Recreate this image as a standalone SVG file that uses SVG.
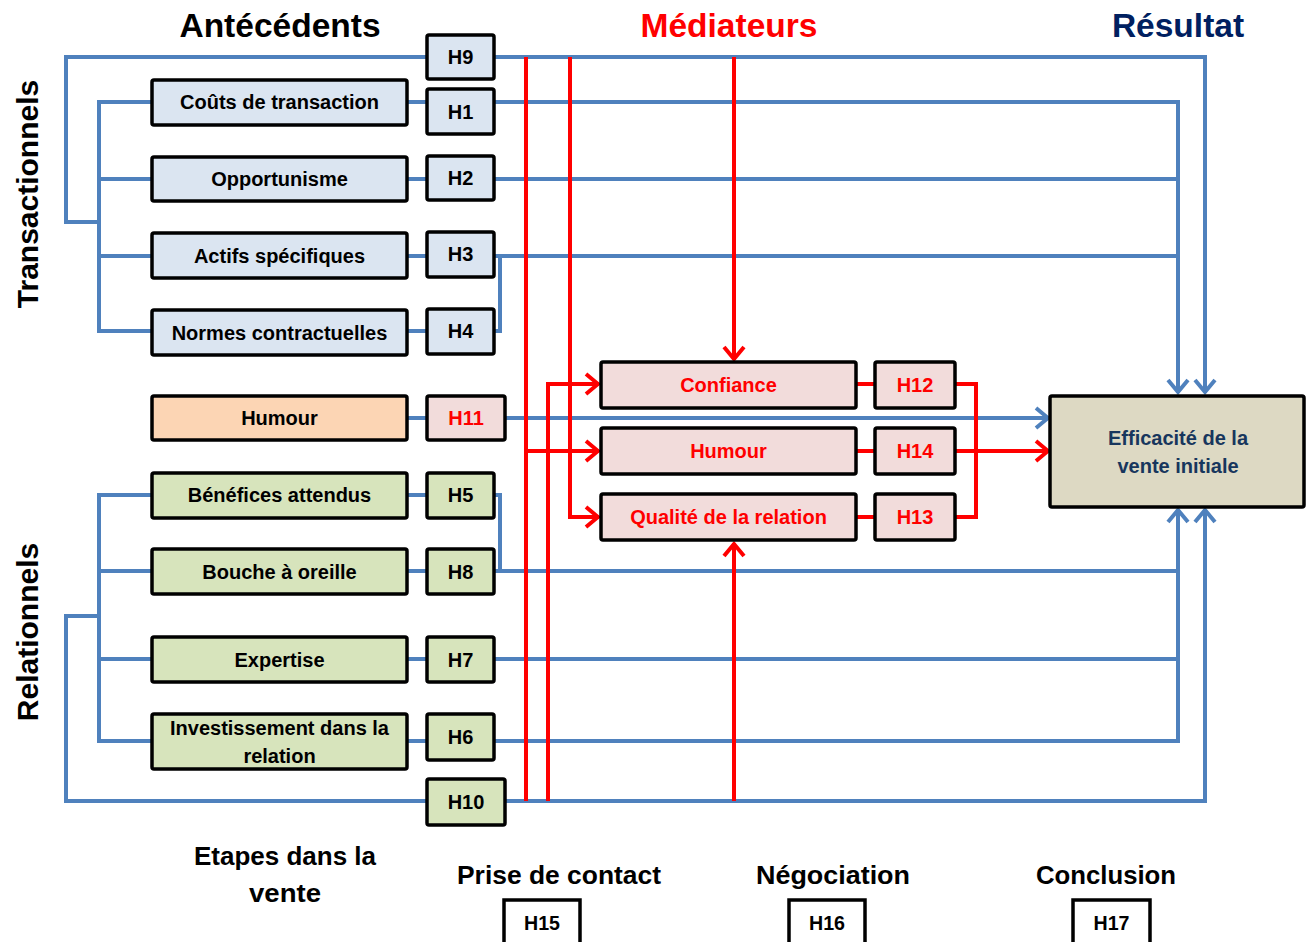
<svg xmlns="http://www.w3.org/2000/svg" width="1311" height="942" viewBox="0 0 1311 942">
<defs>
<style>
text{font-family:"Liberation Sans",Arial,sans-serif;font-weight:bold;}
.t{font-size:20px;text-anchor:middle;fill:#000;}
.r{fill:#ff0000;}
.title{font-size:33.5px;text-anchor:middle;}
.vt{font-size:30px;text-anchor:middle;}
.cond{font-size:26px;text-anchor:middle;fill:#000;}
.box{stroke:#000;stroke-width:3.5;}
.tr{fill:#dbe5f1;}
.rel{fill:#d7e4bc;}
.hum{fill:#fcd5b4;}
.med{fill:#f2dcdb;}
.res{fill:#ddd9c3;}
.bl{fill:none;stroke:#4f81bd;stroke-width:4;}
.rd{fill:none;stroke:#ff0000;stroke-width:4;}
</style>
<marker id="ab" viewBox="0 0 20 24" refX="18" refY="12" markerWidth="20" markerHeight="24" markerUnits="userSpaceOnUse" orient="auto">
<path d="M5,2 L17,12 L5,22" fill="none" stroke="#4f81bd" stroke-width="4"/>
</marker>
<marker id="ar" viewBox="0 0 20 24" refX="18" refY="12" markerWidth="20" markerHeight="24" markerUnits="userSpaceOnUse" orient="auto">
<path d="M5,2 L17,12 L5,22" fill="none" stroke="#ff0000" stroke-width="4"/>
</marker>
</defs>
<rect width="1311" height="942" fill="#fff"/>

<g id="titles">
<text class="title" x="280" y="37" fill="#000">Antécédents</text>
<text class="title" x="729" y="37" fill="#ff0000">Médiateurs</text>
<text class="title" x="1178" y="37" fill="#002060">Résultat</text>
<text class="vt" transform="translate(38,194) rotate(-90)" fill="#000">Transactionnels</text>
<text class="vt" transform="translate(38,632) rotate(-90)" fill="#000">Relationnels</text>
</g>

<g id="connectors">
<path class="bl" d="M427,57 H66 V222 H99"/>
<path class="bl" d="M152,102 H99 V331 H152 M99,179 H152 M99,256 H152"/>
<path class="bl" d="M407,102 H427 M407,179 H427 M407,256 H427 M407,331 H427"/>
<path class="bl" d="M494,57 H1205 V393" marker-end="url(#ab)"/>
<path class="bl" d="M494,102 H1178 V393" marker-end="url(#ab)"/>
<path class="bl" d="M494,179 H1178 M494,256 H1178 M494,331 H500 V256"/>
<path class="bl" d="M407,418 H427"/>
<path class="bl" d="M505,418 H1049" marker-end="url(#ab)"/>
<path class="bl" d="M152,495 H99 V741 H152 M99,571 H152 M99,659 H152 M99,616 H66 V801 H427"/>
<path class="bl" d="M407,495 H427 M407,571 H427 M407,659 H427 M407,741 H427"/>
<path class="bl" d="M494,495 H500 V571 M494,571 H1178 M494,659 H1178"/>
<path class="bl" d="M494,741 H1178 V509" marker-end="url(#ab)"/>
<path class="bl" d="M505,801 H1205 V509" marker-end="url(#ab)"/>
<path class="rd" d="M526,57 V801"/>
<path class="rd" d="M526,451 H599" marker-end="url(#ar)"/>
<path class="rd" d="M548,801 V384 H599" marker-end="url(#ar)"/>
<path class="rd" d="M570,57 V517 H599" marker-end="url(#ar)"/>
<path class="rd" d="M734,57 V360" marker-end="url(#ar)"/>
<path class="rd" d="M734,801 V543" marker-end="url(#ar)"/>
<path class="rd" d="M856,384 H875 M856,451 H875 M856,517 H875"/>
<path class="rd" d="M955,384 H976 V517 H955"/>
<path class="rd" d="M955,451 H1049" marker-end="url(#ar)"/>
</g>

<g id="n-couts"><rect class="box tr" x="152" y="80" width="255" height="45" rx="2"/><text class="t" x="279.5" y="109">Coûts de transaction</text></g>
<g id="n-opport"><rect class="box tr" x="152" y="157" width="255" height="44" rx="2"/><text class="t" x="279.5" y="186">Opportunisme</text></g>
<g id="n-actifs"><rect class="box tr" x="152" y="233" width="255" height="45" rx="2"/><text class="t" x="279.5" y="263">Actifs spécifiques</text></g>
<g id="n-normes"><rect class="box tr" x="152" y="310" width="255" height="45" rx="2"/><text class="t" x="279.5" y="340">Normes contractuelles</text></g>
<g id="n-humour"><rect class="box hum" x="152" y="396" width="255" height="44" rx="2"/><text class="t" x="279.5" y="425">Humour</text></g>
<g id="n-benef"><rect class="box rel" x="152" y="473" width="255" height="45" rx="2"/><text class="t" x="279.5" y="502">Bénéfices attendus</text></g>
<g id="n-bouche"><rect class="box rel" x="152" y="549" width="255" height="45" rx="2"/><text class="t" x="279.5" y="579">Bouche à oreille</text></g>
<g id="n-expertise"><rect class="box rel" x="152" y="637" width="255" height="45" rx="2"/><text class="t" x="279.5" y="667">Expertise</text></g>
<g id="n-invest"><rect class="box rel" x="152" y="714" width="255" height="55" rx="2"/><text class="t" x="279.5" y="735">Investissement dans la</text><text class="t" x="279.5" y="763">relation</text></g>

<g id="h9"><rect class="box tr" x="427" y="35" width="67" height="44" rx="2"/><text class="t" x="460.5" y="64">H9</text></g>
<g id="h1"><rect class="box tr" x="427" y="89" width="67" height="45" rx="2"/><text class="t" x="460.5" y="119">H1</text></g>
<g id="h2"><rect class="box tr" x="427" y="156" width="67" height="44" rx="2"/><text class="t" x="460.5" y="185">H2</text></g>
<g id="h3"><rect class="box tr" x="427" y="232" width="67" height="45" rx="2"/><text class="t" x="460.5" y="261">H3</text></g>
<g id="h4"><rect class="box tr" x="427" y="309" width="67" height="45" rx="2"/><text class="t" x="460.5" y="338">H4</text></g>
<g id="h11"><rect class="box med" x="427" y="396" width="78" height="44" rx="2"/><text class="t r" x="466" y="425">H11</text></g>
<g id="h5"><rect class="box rel" x="427" y="473" width="67" height="45" rx="2"/><text class="t" x="460.5" y="502">H5</text></g>
<g id="h8"><rect class="box rel" x="427" y="549" width="67" height="45" rx="2"/><text class="t" x="460.5" y="579">H8</text></g>
<g id="h7"><rect class="box rel" x="427" y="637" width="67" height="45" rx="2"/><text class="t" x="460.5" y="667">H7</text></g>
<g id="h6"><rect class="box rel" x="427" y="714" width="67" height="46" rx="2"/><text class="t" x="460.5" y="744">H6</text></g>
<g id="h10"><rect class="box rel" x="427" y="779" width="78" height="46" rx="2"/><text class="t" x="466" y="809">H10</text></g>

<g id="m-confiance"><rect class="box med" x="601" y="362" width="255" height="46" rx="2"/><text class="t r" x="728.5" y="392">Confiance</text></g>
<g id="m-humour"><rect class="box med" x="601" y="428" width="255" height="46" rx="2"/><text class="t r" x="728.5" y="458">Humour</text></g>
<g id="m-qualite"><rect class="box med" x="601" y="494" width="255" height="46" rx="2"/><text class="t r" x="728.5" y="524">Qualité de la relation</text></g>
<g id="h12"><rect class="box med" x="875" y="362" width="80" height="46" rx="2"/><text class="t r" x="915" y="392">H12</text></g>
<g id="h14"><rect class="box med" x="875" y="428" width="80" height="46" rx="2"/><text class="t r" x="915" y="458">H14</text></g>
<g id="h13"><rect class="box med" x="875" y="494" width="80" height="46" rx="2"/><text class="t r" x="915" y="524">H13</text></g>

<g id="n-efficacite"><rect class="box res" x="1050" y="396" width="254" height="111" rx="2"/><text class="t" x="1178" y="445" style="fill:#17365d">Efficacité de la</text><text class="t" x="1178" y="473" style="fill:#17365d">vente initiale</text></g>

<g id="etapes">
<text class="cond" x="285" y="865" textLength="182" lengthAdjust="spacingAndGlyphs">Etapes dans la</text>
<text class="cond" x="285" y="902" textLength="72" lengthAdjust="spacingAndGlyphs">vente</text>
<text class="cond" x="559" y="884" textLength="204" lengthAdjust="spacingAndGlyphs">Prise de contact</text>
<text class="cond" x="833" y="884" textLength="154" lengthAdjust="spacingAndGlyphs">Négociation</text>
<text class="cond" x="1106" y="884" textLength="140" lengthAdjust="spacingAndGlyphs">Conclusion</text>
</g>
<g id="h15"><rect x="504" y="900" width="76" height="60" fill="#fff" stroke="#000" stroke-width="3.5"/><text class="t" x="542" y="930" textLength="36" lengthAdjust="spacingAndGlyphs">H15</text></g>
<g id="h16"><rect x="789" y="900" width="76" height="60" fill="#fff" stroke="#000" stroke-width="3.5"/><text class="t" x="827" y="930" textLength="36" lengthAdjust="spacingAndGlyphs">H16</text></g>
<g id="h17"><rect x="1073" y="900" width="77" height="60" fill="#fff" stroke="#000" stroke-width="3.5"/><text class="t" x="1111.5" y="930" textLength="36" lengthAdjust="spacingAndGlyphs">H17</text></g>
</svg>
